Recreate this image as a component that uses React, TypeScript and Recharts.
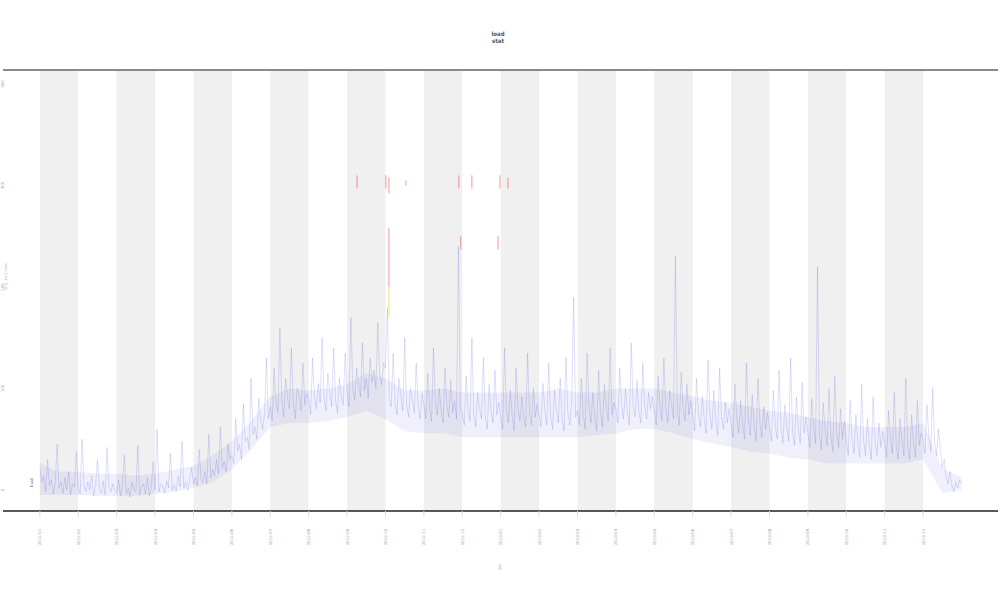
import { ComposedChart, Line, Area, XAxis, YAxis, ReferenceArea, ReferenceLine, ReferenceDot } from "recharts";

// main series, two samples per band unit (0 .. 240)
const loadValues = [
  22, 8, 14, -2, 30, 4, 10, -4, 6, 45, 2, 8, -3, 12, 0, 18, -5, 6, 3, 38,
  2, -4, 50, 5, -2, 8, 0, 14, -6, 4, 30, 1, -3, 9, -5, 42, 3, -2, 6, 0,
  -3, 10, -6, 4, 35, -4, 2, -7, 8, 0, -2, 44, -5, 3, 6, -4, 12, -6, 2, 28,
  0, 60, -2, 6, 4, -3, 9, 2, 36, 0, 5, -1, 14, 3, 48, 2, 8, 0, 10, 22,
  6, 12, 4, 40, 10, 8, 18, 6, 55, 12, 20, 14, 30, 16, 62, 22, 28, 18, 45, 30,
  34, 26, 70, 38, 45, 30, 85, 48, 52, 40, 110, 55, 62, 50, 90, 68, 60, 75, 130, 70,
  82, 68, 120, 85, 76, 160, 88, 72, 110, 90, 80, 140, 86, 70, 100, 92, 78, 125, 84, 95,
  88, 74, 130, 92, 80, 105, 86, 150, 90, 78, 115, 95, 82, 140, 88, 76, 110, 92, 84, 135,
  96, 82, 170, 100, 88, 120, 104, 92, 145, 98, 110, 90, 130, 106, 118, 100, 165, 112, 104, 125,
  120, 180, 90, 82, 135, 86, 74, 110, 92, 78, 150, 84, 72, 100, 88, 76, 125, 82, 70, 95,
  84, 70, 115, 80, 68, 140, 86, 74, 100, 78, 66, 120, 82, 72, 108, 76, 88, 70, 240, 80,
  76, 64, 112, 78, 68, 150, 74, 62, 96, 80, 70, 130, 72, 60, 104, 78, 66, 118, 74, 86,
  72, 60, 140, 78, 66, 98, 74, 58, 120, 80, 68, 92, 70, 62, 135, 76, 64, 100, 72, 84,
  74, 62, 105, 78, 64, 125, 72, 60, 98, 80, 66, 110, 70, 58, 130, 76, 64, 88, 190, 72,
  78, 64, 110, 74, 60, 135, 80, 66, 96, 72, 58, 118, 76, 62, 104, 82, 68, 140, 74, 86,
  80, 66, 120, 84, 70, 100, 78, 64, 145, 82, 72, 108, 76, 66, 125, 84, 70, 96, 80, 92,
  78, 64, 112, 82, 68, 130, 80, 66, 98, 84, 70, 230, 76, 64, 116, 80, 68, 104, 74, 88,
  72, 58, 110, 76, 62, 92, 70, 56, 128, 74, 60, 98, 68, 54, 120, 72, 60, 86, 66, 80,
  66, 52, 104, 70, 56, 88, 64, 50, 125, 68, 54, 94, 62, 48, 110, 66, 52, 82, 60, 76,
  62, 48, 98, 64, 50, 118, 60, 46, 84, 62, 48, 130, 58, 44, 92, 60, 46, 106, 56, 72,
  56, 42, 90, 60, 46, 220, 54, 40, 86, 58, 44, 100, 52, 38, 112, 56, 42, 80, 50, 68,
  48, 34, 88, 50, 36, 74, 46, 32, 104, 48, 34, 70, 44, 30, 92, 46, 34, 66, 42, 58,
  46, 32, 78, 50, 36, 96, 44, 30, 70, 48, 34, 110, 42, 30, 74, 46, 32, 88, 44, 56,
  50, 36, 84, 52, 38, 100, 46, 34, 60, 40, 22, 30, 12, 6, 18, 4, -2, 8, 2, 10,
  6,
];

// spread of the dense noise, every 5 band units (0 .. 240)
const spreadHigh = [
  26, 18, 18, 16, 16, 14, 16, 20, 24, 34, 48, 68, 92, 100, 98, 100, 104, 115, 110, 98,
  98, 100, 96, 96, 96, 96, 96, 100, 96, 96, 100, 100, 100, 96, 92, 88, 86, 82, 78, 76,
  72, 68, 66, 62, 62, 62, 66, 22, 12,
];
const spreadLow = [
  -5, -5, -5, -6, -6, -6, -4, -2, 2, 8, 20, 40, 62, 66, 66, 68, 72, 78, 70, 58,
  56, 56, 52, 52, 52, 52, 52, 52, 52, 54, 56, 60, 60, 56, 50, 46, 42, 38, 36, 32,
  30, 26, 26, 26, 26, 26, 30, -3, 0,
];

// red alarm spikes: position, bottom and top of the visible stroke
const redX = [82.6, 90.1, 90.9, 90.9, 95.3, 109.1, 109.6, 112.5, 119.3, 119.8, 121.9];
const redLow = [297, 297, 200, 292, 300, 297, 237, 297, 237, 297, 297];
const redHigh = [310, 310, 258, 308, 305, 310, 250, 310, 250, 310, 308];

// yellow warning spike
const yellowX = [90.9];
const yellowLow = [170];
const yellowHigh = [200];

const bandStarts = [0, 20, 40, 60, 80, 100, 120, 140, 160, 180, 200, 220];
const xTicks = [0, 10, 20, 30, 40, 50, 60, 70, 80, 90, 100, 110, 120, 130, 140, 150, 160, 170, 180, 190, 200, 210, 220, 230];
const xTickLabels = [
  "2012-01", "2012-02", "2012-03", "2012-04", "2012-05", "2012-06", "2012-07", "2012-08",
  "2012-09", "2012-10", "2012-11", "2012-12", "2013-01", "2013-02", "2013-03", "2013-04",
  "2013-05", "2013-06", "2013-07", "2013-08", "2013-09", "2013-10", "2013-11", "2013-12",
];
const yTicks = [0, 100, 200, 300, 400];

const X_DOMAIN: [number, number] = [-9.6, 249.5];
const Y_DOMAIN: [number, number] = [-20.7, 413.8];

const loadData = loadValues.map((v, i) => ({ x: i / 2, v }));
const spreadData = spreadHigh.map((h, i) => ({ x: i * 5, range: [spreadLow[i], h] }));

function segments(xs: number[], lows: number[], highs: number[]) {
  const out: { x: number; v: number | null }[] = [];
  xs.forEach((x, i) => {
    out.push({ x, v: lows[i] });
    out.push({ x, v: highs[i] });
    out.push({ x, v: null });
  });
  return out;
}

const redData = segments(redX, redLow, redHigh);
const yellowData = segments(yellowX, yellowLow, yellowHigh);

function XTick({ x, y, payload }: any) {
  const idx = xTicks.indexOf(payload.value);
  return (
    <g transform={`translate(${x},${y + 18})`}>
      <text transform="rotate(-90)" textAnchor="middle" dy={1.5} fontSize={4} fill="#a0a0a0" fontFamily="DejaVu Sans">
        {xTickLabels[idx]}
      </text>
    </g>
  );
}

function YTick({ y, payload }: any) {
  return (
    <g transform={`translate(4,${y})`}>
      <text transform="rotate(-90)" textAnchor="middle" fontSize={4} fill="#aaaaaa" fontFamily="DejaVu Sans">
        {payload.value}
      </text>
    </g>
  );
}

export default function App() {
  return (
    <div style={{ position: "absolute", left: 0, top: 0, width: 1000, height: 600, background: "#fff" }}>
      <div
        style={{
          position: "absolute",
          left: 491,
          top: 30,
          width: 14,
          fontSize: 6,
          lineHeight: "7px",
          fontWeight: 700,
          color: "#555",
          fontFamily: "DejaVu Sans Condensed, DejaVu Sans",
          textAlign: "center",
        }}
      >
        load
        <br />
        stat
      </div>
      <ComposedChart width={1000} height={600} data={loadData} margin={{ top: 70, right: 2, bottom: 29, left: 0 }}>
        {bandStarts.map((s) => (
          <ReferenceArea key={s} x1={s} x2={s + 10} fill="#f0f0f0" fillOpacity={1} stroke="none" />
        ))}
        <XAxis
          dataKey="x"
          type="number"
          domain={X_DOMAIN}
          ticks={xTicks}
          height={60}
          axisLine={{ stroke: "#222", strokeWidth: 1.5 }}
          tickLine={{ stroke: "#dddddd" }}
          tickSize={6}
          tick={<XTick />}
          interval={0}
          label={{ value: "date", position: "insideBottom", angle: -90, fontSize: 4, fill: "#999", offset: 4 }}
        />
        <YAxis
          type="number"
          domain={Y_DOMAIN}
          ticks={yTicks}
          width={3}
          axisLine={false}
          tickLine={false}
          tick={<YTick />}
          label={{ value: "daily_load_value", angle: -90, position: "insideLeft", fontSize: 4, fill: "#aaa", offset: 6 }}
        />
        <ReferenceLine y={Y_DOMAIN[1]} stroke="#8a8a8a" strokeWidth={2} />
        <Area
          data={spreadData}
          dataKey="range"
          type="linear"
          fill="#3b3bd8"
          fillOpacity={0.08}
          stroke="none"
          isAnimationActive={false}
        />
        <Line
          type="linear"
          dataKey="v"
          stroke="#2b2bd6"
          strokeOpacity={0.3}
          strokeWidth={0.5}
          dot={false}
          isAnimationActive={false}
        />
        <Line
          type="linear"
          data={yellowData}
          dataKey="v"
          stroke="#e8e040"
          strokeOpacity={0.7}
          strokeWidth={1}
          dot={false}
          connectNulls={false}
          isAnimationActive={false}
        />
        <Line
          type="linear"
          data={redData}
          dataKey="v"
          stroke="#e83040"
          strokeOpacity={0.5}
          strokeWidth={1}
          dot={false}
          connectNulls={false}
          isAnimationActive={false}
        />
        <ReferenceDot
          x={-2.2}
          y={7}
          r={0}
          fill="none"
          stroke="none"
          label={{ value: "load", angle: -90, position: "center", fontSize: 5, fill: "#555" }}
        />
      </ComposedChart>
    </div>
  );
}
